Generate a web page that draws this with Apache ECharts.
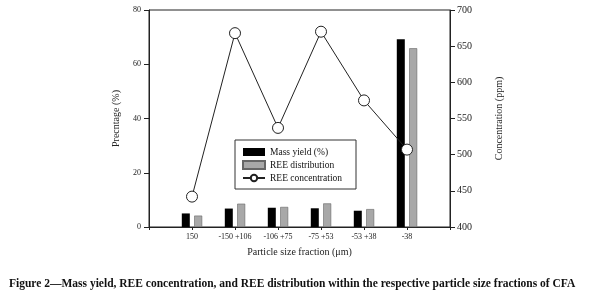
<!DOCTYPE html>
<html>
<head>
<meta charset="utf-8">
<script src="https://cdn.jsdelivr.net/npm/echarts@6/dist/echarts.min.js"></script>
<style>
  html, body { margin: 0; padding: 0; background: #fff; }
  #main { width: 616px; height: 292px; }
</style>
</head>
<body>
<div id="main"></div>
<script>
// size fractions, blank slots at each end keep the gaps seen in the original
var categories = ['', '150', '-150 +106', '-106 +75', '-75 +53', '-53 +38', '-38', ''];
var massYield = [null, 5.0, 6.8, 7.1, 6.9, 6.0, 69.2, null];
var reeDistribution = [null, 4.2, 8.6, 7.4, 8.7, 6.6, 65.9, null];
var reeConcentration = [null, 442, 668, 537, 670, 575, 507, null];
var leftTicks = [0, 80, 20];
var rightTicks = [400, 700, 50];

var serif = '"Liberation Serif", "DejaVu Serif", serif';
var myChart = echarts.init(document.getElementById('main'));

var option = {
    backgroundColor: '#fff',
    animation: false,
    title: {
        text: 'Figure 2\u2014Mass yield, REE concentration, and REE distribution within the respective particle size fractions of CFA',
        left: 4,
        top: 273,
        textStyle: {
            fontFamily: serif,
            fontSize: 11.5,
            fontWeight: 'bold',
            color: '#111'
        }
    },
    grid: {
        left: 149,
        right: 166,
        top: 10,
        bottom: 65,
        show: true,
        borderColor: '#222',
        borderWidth: 1
    },
    legend: {
        orient: 'vertical',
        left: 235,
        top: 140,
        width: 120,
        padding: [7, 14, 6, 7],
        itemGap: 3,
        itemWidth: 22,
        itemHeight: 8,
        borderColor: '#333',
        borderWidth: 1,
        backgroundColor: '#fff',
        textStyle: { fontFamily: serif, fontSize: 9.5, color: '#111' },
        data: [
            { name: 'Mass yield (%)', icon: 'rect' },
            { name: 'REE distribution', icon: 'rect' },
            { name: 'REE concentration' }
        ]
    },
    xAxis: {
        type: 'category',
        boundaryGap: false,
        data: categories,
        name: 'Particle size fraction (\u03bcm)',
        nameLocation: 'middle',
        nameGap: 20,
        nameTextStyle: { fontFamily: serif, fontSize: 10, color: '#222' },
        axisLine: { lineStyle: { color: '#222' } },
        axisTick: { show: true, length: 3, interval: 0, lineStyle: { color: '#222' } },
        axisLabel: { fontFamily: serif, fontSize: 8, color: '#222', margin: 6, interval: 0 },
        splitLine: { show: false }
    },
    yAxis: [{
        type: 'value',
        min: leftTicks[0],
        max: leftTicks[1],
        interval: leftTicks[2],
        name: 'Precntage (%)',
        nameLocation: 'middle',
        nameGap: 28,
        nameTextStyle: { fontFamily: serif, fontSize: 10, color: '#222' },
        axisLine: { show: true, lineStyle: { color: '#222' } },
        axisTick: { show: true, length: 5, lineStyle: { color: '#222' } },
        axisLabel: { fontFamily: serif, fontSize: 8, color: '#222', margin: 8 },
        splitLine: { show: false }
    }, {
        type: 'value',
        position: 'right',
        min: rightTicks[0],
        max: rightTicks[1],
        interval: rightTicks[2],
        name: 'Concentration (ppm)',
        nameLocation: 'middle',
        nameGap: 44,
        nameRotate: 90,
        nameTextStyle: { fontFamily: serif, fontSize: 10, color: '#222' },
        axisLine: { show: true, lineStyle: { color: '#222' } },
        axisTick: { show: true, length: 5, lineStyle: { color: '#222' } },
        axisLabel: { fontFamily: serif, fontSize: 10, color: '#222', margin: 7 },
        splitLine: { show: false }
    }],
    series: [{
        name: 'Mass yield (%)',
        type: 'bar',
        yAxisIndex: 0,
        barWidth: 8,
        barGap: '55%',
        itemStyle: { color: '#000' },
        data: massYield
    }, {
        name: 'REE distribution',
        type: 'bar',
        yAxisIndex: 0,
        barWidth: 8,
        itemStyle: { color: '#a8a8a8', borderColor: '#666', borderWidth: 0.6 },
        data: reeDistribution
    }, {
        name: 'REE concentration',
        type: 'line',
        yAxisIndex: 1,
        symbol: 'circle',
        symbolSize: 11,
        showAllSymbol: true,
        lineStyle: { color: '#222', width: 1 },
        itemStyle: { color: '#fff', borderColor: '#222', borderWidth: 1 },
        z: 5,
        data: reeConcentration
    }]
};
myChart.setOption(option);
</script>
</body>
</html>
